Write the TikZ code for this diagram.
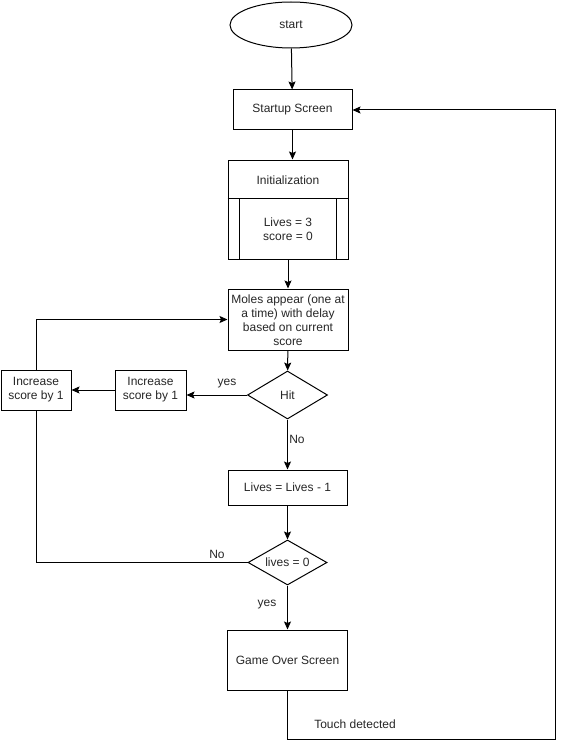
\documentclass[tikz,border=0pt]{standalone}
\usepackage{fontspec}
\setmainfont{Liberation Sans}
\usetikzlibrary{shapes.geometric,arrows.meta}
\begin{document}
\begin{tikzpicture}[x=1pt,y=-1pt,
  base/.style={draw=black,line width=1pt,font=\fontsize{12}{14}\selectfont,text=black!85,align=center,inner sep=1pt},
  box/.style={base,rectangle},
  dia/.style={base,diamond,aspect=1.67},
  arr/.style={line width=1pt,-{Stealth[length=8pt,width=7pt,inset=1.5pt]}},
  ln/.style={line width=1pt},
  lbl/.style={font=\fontsize{12}{14}\selectfont,text=black!85,inner sep=0pt}]
\useasboundingbox (0,0) rectangle (564,749);
\node[base,ellipse,minimum width=122pt,minimum height=46pt] (start) at (291,25) {start};
\node[box,minimum width=119pt,minimum height=40pt] (startup) at (292.5,110) {Startup Screen};
\node[box,minimum width=120pt,minimum height=99pt] (init) at (288,209.5) {};
\node[lbl] (inittitle) at (288,180) {Initialization};
\node[lbl,align=center] (initbody) at (288,229) {Lives = 3\\score = 0};
\draw[ln] (init.west |- 0,198) -- (init.east |- 0,198);
\draw[ln] ([xshift=11.5pt]init.west |- 0,198) -- ([xshift=11.5pt]init.south west);
\draw[ln] ([xshift=-12.5pt]init.east |- 0,198) -- ([xshift=-12.5pt]init.south east);
\node[box,minimum width=120pt,minimum height=61pt] (moles) at (288,319.5) {};
\node[lbl,align=center] (molestext) at (288,320) {Moles appear (one at\\a time) with delay\\based on current\\score};
\node[dia,minimum width=80pt,minimum height=48pt] (hit) at (287.5,395) {Hit};
\node[box,minimum width=71pt,minimum height=40pt] (inc2) at (150.5,390) {Increase\\score by 1};
\node[box,minimum width=70pt,minimum height=40pt] (inc1) at (36,390) {Increase\\score by 1};
\node[box,minimum width=119pt,minimum height=35pt] (lives1) at (287.5,487.5) {Lives = Lives - 1};
\node[dia,minimum width=79pt,minimum height=45pt] (lz) at (287.5,562.5) {lives = 0};
\node[box,minimum width=120pt,minimum height=60pt] (go) at (287.5,660) {Game Over Screen};
\coordinate (c1) at (555,739);
\draw[arr] (start) -- (startup);
\draw[arr] (startup.south) -- (startup.south |- init.north);
\draw[arr] (init) -- (moles);
\draw[arr] (moles) -- (hit);
\draw[arr] (hit.west) -- (hit.west -| inc2.east);
\node[lbl] (yes1) at (227,384) {yes};
\draw[arr] (inc2.west) -- (inc1.east);
\draw[arr] (inc1.north) |- (moles.west);
\draw[arr] (hit.south) -- (lives1.north);
\node[lbl] (no1) at (297,439) {No};
\draw[arr] (lives1) -- (lz);
\draw[ln] (lz.west) -| (inc1.south);
\node[lbl] (no2) at (217,554) {No};
\draw[arr] (lz.south) -- (go.north);
\node[lbl] (yes2) at (267,605) {yes};
\draw[arr] (go.south) |- (c1) |- (startup.east);
\node[lbl] (touch) at (355,724) {Touch detected};
\end{tikzpicture}
\end{document}
